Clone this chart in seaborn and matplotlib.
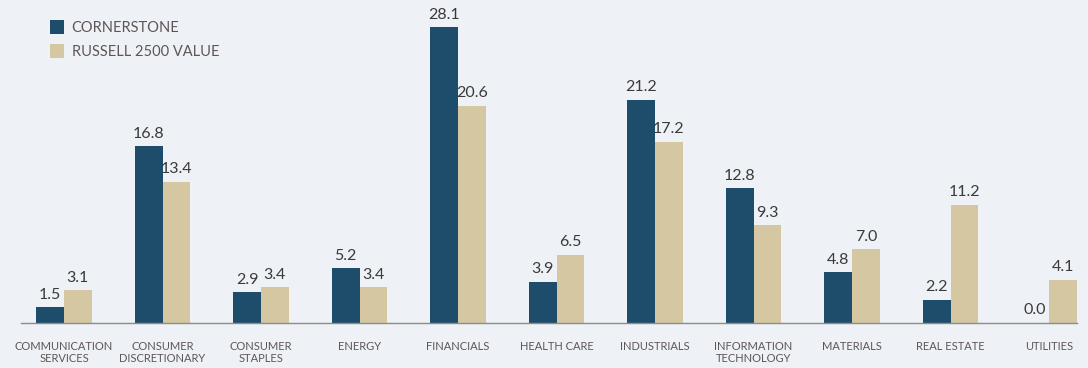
import matplotlib
matplotlib.use("Agg")
import matplotlib.pyplot as plt
import seaborn as sns
import pandas as pd
from matplotlib.patches import Patch

categories = ["COMMUNICATION\nSERVICES", "CONSUMER\nDISCRETIONARY", "CONSUMER\nSTAPLES", "ENERGY",
              "FINANCIALS", "HEALTH CARE", "INDUSTRIALS", "INFORMATION\nTECHNOLOGY",
              "MATERIALS", "REAL ESTATE", "UTILITIES"]
cornerstone = [1.5, 16.8, 2.9, 5.2, 28.1, 3.9, 21.2, 12.8, 4.8, 2.2, 0.0]
russell = [3.1, 13.4, 3.4, 3.4, 20.6, 6.5, 17.2, 9.3, 7.0, 11.2, 4.1]
series = ["CORNERSTONE", "RUSSELL 2500 VALUE"]

BG = "#EEF1F5"
DARK = "#1E4D6C"
TAN = "#D5C7A2"
TXT = "#5E5656"

sns.set_theme(style="white")
plt.rcParams['font.family'] = ['Lato', 'DejaVu Sans']

df = pd.DataFrame({
    "category": categories * 2,
    "value": cornerstone + russell,
    "series": [series[0]] * len(categories) + [series[1]] * len(categories),
})

fig = plt.figure(figsize=(10.88, 3.68), dpi=100, facecolor=BG)
ax = fig.add_axes([21/1088, 45/368, (1077-21)/1088, 323/368])
ax.set_facecolor(BG)

sns.barplot(data=df, x="category", y="value", hue="series", order=categories,
            hue_order=series, palette=[DARK, TAN], width=0.56, saturation=1,
            ax=ax, legend=False, errorbar=None, linewidth=0)

for cont in ax.containers:
    ax.bar_label(cont, fmt="%.1f", padding=4, fontsize=11.5, color="#3A3A3A")

ax.set_xlim(-0.437, 10.284)
ax.set_ylim(0, 30.67)
ax.set_xlabel("")
ax.set_ylabel("")
ax.set_yticks([])
for s in ["top", "right", "left"]:
    ax.spines[s].set_visible(False)
ax.spines["bottom"].set_color("#8C8C8C")
ax.spines["bottom"].set_linewidth(1.0)
ax.tick_params(axis="x", which="major", length=0, pad=13, labelsize=8, labelcolor=TXT)
for lbl in ax.get_xticklabels():
    lbl.set_linespacing(1.05)
ax.set_xticks([-0.437, 10.284], minor=True)
ax.tick_params(axis="x", which="minor", length=3, color="#8C8C8C", direction="out")

handles = [Patch(facecolor=DARK, edgecolor="none"), Patch(facecolor=TAN, edgecolor="none")]
leg = fig.legend(handles, series, loc="upper left", bbox_to_anchor=(44/1088, 1 - 14/368),
                 frameon=False, fontsize=10.5, handlelength=1.0, handleheight=1.1,
                 handletextpad=0.5, labelspacing=0.65, borderaxespad=0)
for t in leg.get_texts():
    t.set_color(TXT)

fig.savefig("out.png", dpi=100, facecolor=BG)
